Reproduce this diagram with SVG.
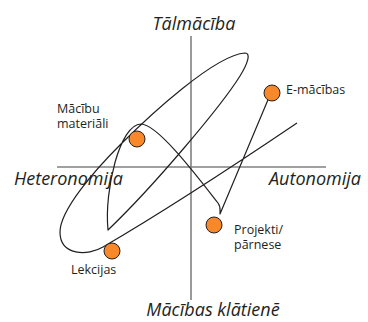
<svg xmlns="http://www.w3.org/2000/svg" width="368" height="322" viewBox="0 0 368 322">
<style>
.axis{stroke:#808080;stroke-width:1.6;fill:none}
.curve{stroke:#231f20;stroke-width:1.2;fill:none;stroke-linejoin:round}
.dot{fill:#f7892b;stroke:#231f20;stroke-width:1}
.ax{font-family:"Open Sans","Noto Sans",sans-serif;font-style:italic;font-size:18px;fill:#231f20}
.lbl{font-family:"Open Sans","Noto Sans",sans-serif;font-size:12.5px;fill:#231f20}
</style>
<g id="axes">
<line class="axis" x1="191" y1="36" x2="191" y2="300"/>
<line class="axis" x1="57" y1="167" x2="326" y2="167"/>
</g>
<g id="axis-labels">
<text class="ax" x="194" y="30" text-anchor="middle">Tālmācība</text>
<text class="ax" x="14" y="185">Heteronomija</text>
<text class="ax" x="269" y="185">Autonomija</text>
<text class="ax" x="213" y="316" text-anchor="middle">Mācības klātienē</text>
</g>
<g id="connectors">
<path class="curve" d="M297,123 C260,148 175,205 103,247 C88,256 60,256 60,232 C60,210 95,170 120,145 C150,115 215,55 245,53 C251,53 248,63 240,76 C222,105 155,185 108,230 C104,190 120,124 141,124 C158,124 200,180 218,203 C221,207 220,210 220,214 L270,95"/>
</g>
<g id="node-materiali">
<circle class="dot" cx="137" cy="139" r="8"/>
<text class="lbl" x="57" y="113">Mācību</text>
<text class="lbl" x="57" y="128">materiāli</text>
</g>
<g id="node-emacibas">
<circle class="dot" cx="272" cy="93" r="8"/>
<text class="lbl" x="286" y="94">E-mācības</text>
</g>
<g id="node-projekti">
<circle class="dot" cx="214" cy="225" r="8"/>
<text class="lbl" x="234" y="234">Projekti/</text>
<text class="lbl" x="234" y="249">pārnese</text>
</g>
<g id="node-lekcijas">
<circle class="dot" cx="112" cy="251" r="8"/>
<text class="lbl" x="71" y="274">Lekcijas</text>
</g>
</svg>
